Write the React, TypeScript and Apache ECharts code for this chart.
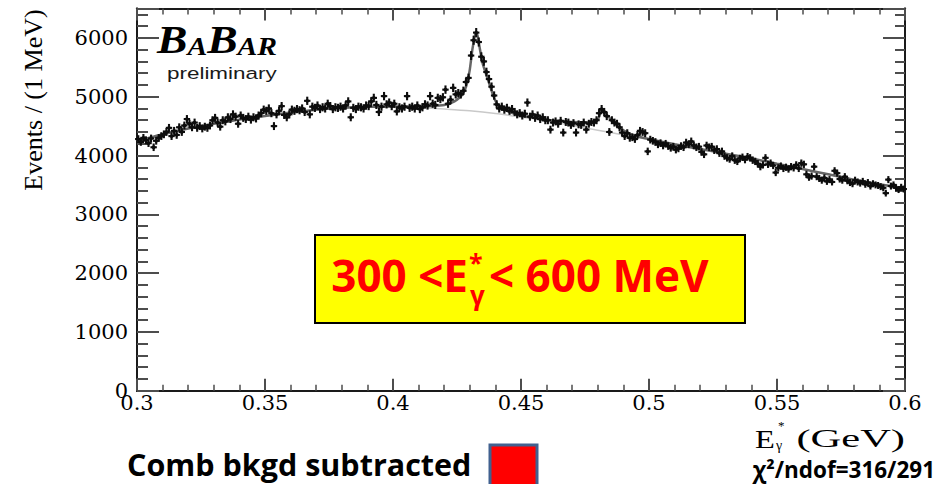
import React, { useEffect, useRef } from 'react';
import * as echarts from 'echarts';

// Histogram: 1 MeV bins from 0.300 to 0.600 GeV
const binStart = 0.3;
const binWidth = 0.001;

const countsA = [
  4280, 4230, 4300, 4260, 4210, 4290, 4140, 4250, 4300, 4330,
  4360, 4400, 4470, 4330, 4420, 4350, 4480, 4400, 4510, 4620,
  4540, 4480, 4560, 4470, 4500, 4460, 4490, 4470, 4510, 4600,
  4640, 4560, 4490, 4600, 4580, 4650, 4620, 4700, 4660, 4540,
  4680, 4640, 4620, 4660, 4610, 4650, 4630, 4680, 4720, 4780,
];
const countsB = [
  4760, 4800, 4720, 4500, 4700, 4760, 4840, 4690, 4650, 4700,
  4780, 4760, 4790, 4770, 4800, 4740, 4930, 4700, 4830, 4810,
  4850, 4790, 4820, 4800, 4880, 4840, 4790, 4820, 4810, 4830,
  4800, 4850, 4920, 4650, 4810, 4790, 4830, 4820, 4800, 4850,
  4840, 4920, 4980, 4860, 4740, 4830, 5010, 4870, 4900, 4840,
];
const countsC = [
  4880, 4750, 4820, 4800, 4830, 5010, 4810, 4830, 4800, 4850,
  4790, 4820, 4870, 4850, 5010, 4880, 4860, 4980, 4960, 4990,
  5120, 4880, 4950, 5150, 5040, 5060, 5040, 5100, 5250, 5320,
  5700, 5960, 6090, 5930, 5680, 5600, 5420, 5300, 5170, 5020,
  4870, 4800, 4830, 4780, 4810, 4760, 4790, 4740, 4700, 4720,
];
const countsD = [
  4680, 4710, 4900, 4660, 4700, 4640, 4680, 4620, 4650, 4600,
  4600, 4440, 4560, 4580, 4540, 4590, 4390, 4570, 4560, 4520,
  4550, 4390, 4530, 4520, 4560, 4440, 4540, 4570, 4560, 4600,
  4720, 4790, 4740, 4670, 4400, 4600, 4560, 4540, 4480, 4390,
  4330, 4380, 4300, 4310, 4280, 4350, 4420, 4400, 4380, 4070,
];
const countsE = [
  4270, 4250, 4230, 4190, 4210, 4170, 4200, 4160, 4130, 4150,
  4100, 4120, 4160, 4140, 4220, 4190, 4240, 4170, 4140, 4150,
  4060, 4020, 4170, 4140, 4150, 4090, 4110, 4040, 4070, 3990,
  3960, 3940, 3990, 3920, 3900, 3950, 3970, 3930, 3980, 3960,
  3920, 3900, 3860, 3810, 3840, 3960, 3850, 3870, 3830, 3710,
];
const countsF = [
  3790, 3820, 3780, 3800, 3770, 3810, 3790, 3840, 3780, 3870,
  3850, 3680, 3630, 3650, 3810, 3640, 3610, 3580, 3620, 3560,
  3590, 3550, 3740, 3700, 3600, 3580, 3640, 3570, 3540, 3520,
  3580, 3550, 3530, 3560, 3510, 3540, 3480, 3520, 3500, 3490,
  3470, 3450, 3360, 3590, 3480, 3500, 3450, 3420, 3460, 3430,
];

// Background component of the fit (light grey)
const bkgE = [0.30, 0.31, 0.32, 0.33, 0.34, 0.35, 0.36, 0.37, 0.38, 0.39, 0.40,
  0.41, 0.42, 0.43, 0.44, 0.45, 0.46, 0.47, 0.48, 0.49, 0.50,
  0.51, 0.52, 0.53, 0.54, 0.55, 0.56, 0.57, 0.58, 0.59, 0.60];
const bkgN = [4240, 4360, 4460, 4540, 4610, 4670, 4730, 4780, 4810, 4830, 4835,
  4815, 4790, 4760, 4715, 4655, 4590, 4510, 4430, 4350, 4270,
  4190, 4110, 4030, 3950, 3860, 3770, 3680, 3590, 3510, 3440];

// Total fit (signal + background)
const fitE = [0.30, 0.31, 0.32, 0.33, 0.34, 0.35, 0.36, 0.37, 0.38, 0.39, 0.40, 0.41,
  0.415, 0.42, 0.423, 0.425, 0.427, 0.428, 0.429, 0.430, 0.431, 0.432, 0.4325, 0.433,
  0.434, 0.435, 0.436, 0.437, 0.438, 0.439, 0.440, 0.441, 0.443, 0.446, 0.45, 0.455,
  0.46, 0.465, 0.47, 0.475, 0.478, 0.480, 0.481, 0.4815, 0.483, 0.485, 0.487, 0.49,
  0.493, 0.496, 0.50, 0.51, 0.52, 0.53, 0.54, 0.55, 0.56, 0.57, 0.58, 0.59, 0.60];
const fitN = [4240, 4360, 4460, 4540, 4610, 4670, 4730, 4780, 4810, 4830, 4835, 4830,
  4840, 4860, 4900, 4950, 5030, 5110, 5240, 5460, 5800, 6040, 6080, 6040,
  5800, 5570, 5430, 5300, 5170, 5040, 4930, 4860, 4790, 4730, 4680, 4640,
  4610, 4585, 4570, 4565, 4575, 4610, 4720, 4780, 4720, 4620, 4530, 4430,
  4360, 4320, 4280, 4190, 4110, 4030, 3950, 3860, 3770, 3680, 3590, 3510, 3440];

const xTickLabels = ['0.3', '0.35', '0.4', '0.45', '0.5', '0.55', '0.6'];
const yTickLabels = ['0', '1000', '2000', '3000', '4000', '5000', '6000'];

const AXIS_COLOR = '#1a1a1a';
const TICK_COLOR = '#4d4d4d';
const MARK_COLOR = '#0d0d0d';

export default function App() {
  const ref = useRef<HTMLDivElement>(null);

  useEffect(() => {
    const chart = echarts.init(ref.current as HTMLDivElement, null, { renderer: 'svg' });
    const counts = [...countsA, ...countsB, ...countsC, ...countsD, ...countsE, ...countsF];
    const points = counts.map((n, i) => [binStart + (i + 0.5) * binWidth, n]);

    const xBase: any = {
      type: 'value', min: 0.3, max: 0.6, interval: 0.05,
      splitLine: { show: false },
      axisLine: { show: true, onZero: false, lineStyle: { color: AXIS_COLOR, width: 2 } },
      axisTick: { show: true, inside: true, length: 12, lineStyle: { color: TICK_COLOR, width: 2 } },
      minorTick: { show: true, splitNumber: 5, length: 6, lineStyle: { color: TICK_COLOR, width: 1.5 } },
      minorSplitLine: { show: false },
    };
    const yBase: any = {
      type: 'value', min: 0, max: 6500,
      splitLine: { show: false },
      axisLine: { show: true, onZero: false, lineStyle: { color: AXIS_COLOR, width: 2 } },
      axisLabel: { show: false },
    };

    const leftText = (x: number, y: number, text: string, extra: any, elExtra: any = {}) => ({
      type: 'text', x, y, ...elExtra,
      style: { text, align: 'left', verticalAlign: 'middle', textAlign: 'left', textVerticalAlign: 'middle', ...extra },
    });

    const option: any = {
      animation: false,
      backgroundColor: '#ffffff',
      grid: { left: 137, right: 46, top: 8.5, bottom: 93.3, containLabel: false, outerBoundsMode: 'none' },
      xAxis: [
        {
          ...xBase, position: 'bottom',
          axisLabel: {
            show: true, margin: 2, color: '#000', fontFamily: 'DejaVu Serif', fontSize: 21,
            formatter: (v: number) => {
              const k = Math.round((v - 0.3) / 0.05);
              return Math.abs(v - (0.3 + k * 0.05)) < 1e-6 ? (xTickLabels[k] ?? '') : '';
            },
          },
        },
        { ...xBase, position: 'top', axisLabel: { show: false } },
      ],
      yAxis: [
        {
          ...yBase, position: 'left', interval: 1000,
          axisTick: { show: true, inside: true, length: 22, lineStyle: { color: TICK_COLOR, width: 2 } },
          axisLabel: {
            show: true, margin: 9, color: '#000', fontFamily: 'DejaVu Serif', fontSize: 21,
            formatter: (v: number) => (v % 1000 === 0 ? (yTickLabels[v / 1000] ?? '') : ''),
          },
        },
        {
          ...yBase, position: 'left', interval: 200,
          axisTick: { show: true, inside: true, length: 11, lineStyle: { color: TICK_COLOR, width: 2 } },
        },
        {
          ...yBase, position: 'right', interval: 1000,
          axisTick: { show: true, inside: true, length: 22, lineStyle: { color: TICK_COLOR, width: 2 } },
        },
        {
          ...yBase, position: 'right', interval: 200,
          axisTick: { show: true, inside: true, length: 10, lineStyle: { color: TICK_COLOR, width: 2 } },
        },
      ],
      series: [
        {
          type: 'line', name: 'background', xAxisIndex: 0, yAxisIndex: 0,
          data: bkgE.map((e, i) => [e, bkgN[i]]),
          smooth: 0.3, showSymbol: false, silent: true, z: 1,
          lineStyle: { color: '#c9c9c9', width: 1.5 },
        },
        {
          type: 'line', name: 'fit', xAxisIndex: 0, yAxisIndex: 0,
          data: fitE.map((e, i) => [e, fitN[i]]),
          smooth: 0.2, showSymbol: false, silent: true, z: 2,
          lineStyle: { color: '#666666', width: 2.5 },
        },
        {
          type: 'custom', name: 'data', xAxisIndex: 0, yAxisIndex: 0, z: 3,
          data: points,
          renderItem: (params: any, api: any) => {
            const x = api.value(0);
            const y = api.value(1);
            const err = Math.sqrt(y);
            const c = api.coord([x, y]);
            const t = api.coord([x, y + err]);
            const b = api.coord([x, y - err]);
            return {
              type: 'group',
              children: [
                { type: 'line', shape: { x1: c[0], y1: t[1], x2: c[0], y2: b[1] }, style: { stroke: MARK_COLOR, lineWidth: 2.1 } },
                { type: 'line', shape: { x1: c[0] - 3.2, y1: c[1], x2: c[0] + 3.2, y2: c[1] }, style: { stroke: MARK_COLOR, lineWidth: 2.1 } },
                { type: 'circle', shape: { cx: c[0], cy: c[1], r: 1.9 }, style: { fill: MARK_COLOR } },
              ],
            };
          },
        },
      ],
      graphic: [
        // y-axis title
        {
          type: 'text', x: 33, y: 100, rotation: Math.PI / 2,
          style: { text: 'Events / (1 MeV)', fontFamily: 'Liberation Serif', fontSize: 26, fill: '#000',
            align: 'center', verticalAlign: 'middle', textAlign: 'center', textVerticalAlign: 'middle' },
        },
        // BaBar logo
        {
          type: 'text', x: 157, y: 59, scaleX: 1.14,
          style: {
            text: '{b|B}{s|A}{b|B}{s|AR}',
            verticalAlign: 'bottom', textVerticalAlign: 'bottom',
            rich: {
              b: { fontFamily: 'Liberation Serif', fontWeight: 'bold', fontStyle: 'italic', fontSize: 40, fill: '#000', verticalAlign: 'bottom' },
              s: { fontFamily: 'Liberation Serif', fontWeight: 'bold', fontStyle: 'italic', fontSize: 26, fill: '#000', verticalAlign: 'bottom' },
            },
          },
        },
        leftText(167, 73, 'preliminary', { fontFamily: 'Liberation Sans', fontSize: 17, fill: '#1a1a1a' }, { scaleX: 1.32 }),
        // yellow label box
        {
          type: 'rect', shape: { x: 315, y: 235, width: 430, height: 88 },
          style: { fill: '#ffff00', stroke: '#000', lineWidth: 2 },
        },
        {
          type: 'text', x: 468, y: 275,
          style: { text: '300 <E', fontFamily: 'Open Sans', fontWeight: 'bold', fontSize: 44, fill: '#ff0000',
            align: 'right', verticalAlign: 'middle', textAlign: 'right', textVerticalAlign: 'middle' },
        },
        leftText(469, 262, '*', { fontFamily: 'Open Sans', fontWeight: 'bold', fontSize: 25, fill: '#ff0000' }),
        leftText(470, 295, 'γ', { fontFamily: 'Open Sans', fontWeight: 'bold', fontSize: 26, fill: '#ff0000' }),
        leftText(489, 275, '< 600 MeV', { fontFamily: 'Open Sans', fontWeight: 'bold', fontSize: 44, fill: '#ff0000' }),
        // x-axis title
        leftText(755, 439, 'E', { fontFamily: 'Liberation Serif', fontSize: 25, fill: '#000' }, { scaleX: 1.3 }),
        leftText(778, 425, '*', { fontFamily: 'Liberation Serif', fontSize: 13, fill: '#000' }),
        leftText(776, 445, 'γ', { fontFamily: 'Liberation Serif', fontSize: 14, fill: '#000' }),
        {
          type: 'text', x: 905, y: 439, scaleX: 1.7,
          style: { text: '(GeV)', fontFamily: 'Liberation Serif', fontSize: 25, fill: '#000',
            align: 'right', verticalAlign: 'middle', textAlign: 'right', textVerticalAlign: 'middle' },
        },
        // slide annotations
        leftText(127, 464, 'Comb bkgd subtracted', { fontFamily: 'Open Sans', fontWeight: 'bold', fontSize: 30.5, fill: '#000' }),
        {
          type: 'rect', shape: { x: 490, y: 445, width: 47, height: 45 },
          style: { fill: '#ff0000', stroke: '#41618f', lineWidth: 3 },
        },
        {
          type: 'text', x: 935, y: 469,
          style: { text: 'χ²/ndof=316/291', fontFamily: 'Open Sans', fontWeight: 'bold', fontSize: 22.5, fill: '#000',
            align: 'right', verticalAlign: 'middle', textAlign: 'right', textVerticalAlign: 'middle' },
        },
      ],
    };

    chart.setOption(option);
    return () => chart.dispose();
  }, []);

  return (
    <div
      ref={ref}
      style={{ position: 'fixed', left: 0, top: 0, width: 951, height: 484, background: '#ffffff' }}
    />
  );
}
